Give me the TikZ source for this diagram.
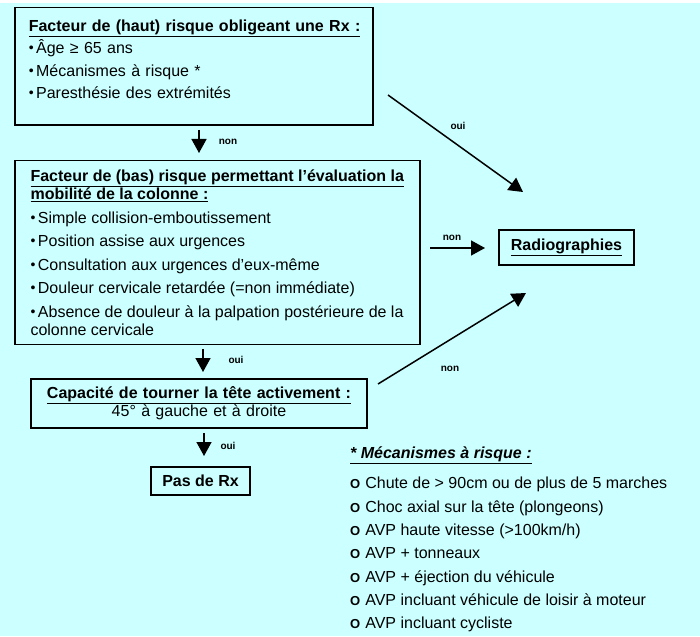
\documentclass[tikz,border=0pt]{standalone}
\usepackage{fontspec}
\setmainfont{Liberation Sans}
\usetikzlibrary{arrows.meta}
\definecolor{fond}{HTML}{CCFFFF}
\tikzset{
  boite/.style={draw, line width=1.5pt, align=left, inner xsep=14pt, inner ysep=12pt,
    font=\fontsize{16}{22.5}\selectfont},
  fleche/.style={line width=1.5pt, -{Triangle[length=14pt,width=15pt]}},
  rep/.style={font=\fontsize{10}{12}\selectfont\bfseries, inner sep=0pt},
}
\newcommand\puce{\raisebox{1pt}{\fontsize{14}{14}\selectfont•}\hspace{2.5pt}}
\newcommand\rond{\textbf{\fontsize{13}{13}\selectfont O}\hspace{5pt}}
\begin{document}
\begin{tikzpicture}[x=1pt,y=-1pt]
  \useasboundingbox (0,0) rectangle (700,636);
  \fill[fond] (0,3) rectangle (700,636);
  % les cases
  \node[boite, anchor=north west, text width=330pt] (haut) at (14,7)
    {\textbf{\underline{Facteur de (haut) risque obligeant une Rx :}}\\
     \puce Âge ≥ 65 ans\\
     \puce Mécanismes à risque *\\
     \puce Paresthésie des extrémités\rule[-14pt]{0pt}{14pt}};
  \node[boite, anchor=north west, minimum width=405pt, inner xsep=0pt, inner ysep=9pt,
    font=\fontsize{16}{18}\selectfont] (bas) at (14,160)
    {\textbf{\underline{Facteur de (bas) risque permettant l’évaluation la}}\\
     \textbf{\underline{mobilité de la colonne :}}\\[6pt]
     \puce Simple collision-emboutissement\\[5.5pt]
     \puce Position assise aux urgences\\[5.5pt]
     \puce Consultation aux urgences d’eux-même\\[5.5pt]
     \puce Douleur cervicale retardée (=non immédiate)\\[5.5pt]
     \puce Absence de douleur à la palpation postérieure de la\\
     colonne cervicale};
  \node[boite, anchor=north, align=center, text width=316pt, inner xsep=10pt, inner ysep=8pt,
    font=\fontsize{16}{18}\selectfont] (tete) at (199,378)
    {\textbf{\underline{Capacité de tourner la tête activement :}}\\
     45° à gauche et à droite};
  \node[boite, inner sep=0pt, minimum width=99pt, minimum height=28pt,
    font=\fontsize{16}{18}\selectfont\bfseries] (pasrx) at (200.5,481) {Pas de Rx};
  \node[boite, inner sep=0pt, minimum width=135pt, minimum height=35pt,
    font=\fontsize{16}{18}\selectfont\bfseries] (radio) at (566.5,247.5) {\underline{Radiographies}};
  % les fleches
  \coordinate (h1) at (199,130);  \coordinate (h2) at (199,153);
  \coordinate (b1) at (203,349);  \coordinate (b2) at (203,372);
  \coordinate (t1) at (204,433);  \coordinate (t2) at (204,456);
  \coordinate (r1) at (388,95);   \coordinate (r2) at (523,192);
  \coordinate (r3) at (430,248);  \coordinate (r4) at (485,248);
  \coordinate (r5) at (378,384);  \coordinate (r6) at (526,293);
  \draw[fleche] (h1) -- (h2);
  \draw[fleche] (b1) -- (b2);
  \draw[fleche] (t1) -- (t2);
  \draw[fleche] (r1) -- (r2);
  \draw[fleche] (r3) -- (r4);
  \draw[fleche] (r5) -- (r6);
  \node[rep] (non1) at (228,142) {non};
  \node[rep] (oui1) at (236,360) {oui};
  \node[rep] (oui2) at (228,446) {oui};
  \node[rep] (oui3) at (458,126) {oui};
  \node[rep] (non2) at (452,238) {non};
  \node[rep] (non3) at (450,369) {non};
  % la note
  \node[anchor=north west, align=left, inner sep=0pt, font=\fontsize{16}{23.3}\selectfont] (meca) at (350,447)
    {\textbf{\textit{\underline{* Mécanismes à risque :}}}\\[6.7pt]
     \rond Chute de > 90cm ou de plus de 5 marches\\
     \rond Choc axial sur la tête (plongeons)\\
     \rond AVP haute vitesse (>100km/h)\\
     \rond AVP + tonneaux\\
     \rond AVP + éjection du véhicule\\
     \rond AVP incluant véhicule de loisir à moteur\\
     \rond AVP incluant cycliste};
\end{tikzpicture}
\end{document}
